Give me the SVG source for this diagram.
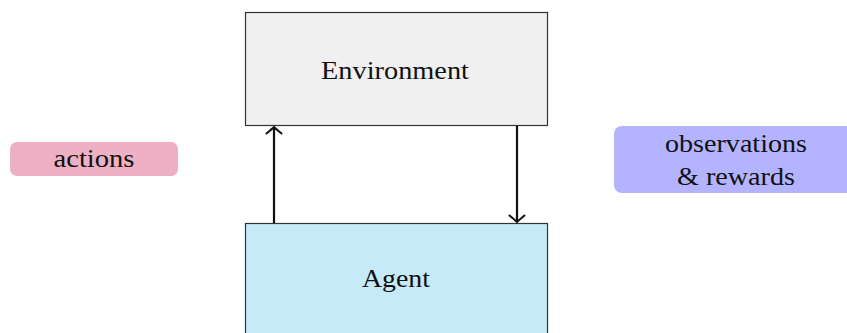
<svg xmlns="http://www.w3.org/2000/svg" width="847" height="333" viewBox="0 0 847 333">
<style>
text{font-family:"Liberation Serif","Times New Roman",serif;font-size:26px;fill:#111;text-anchor:middle}
.box{stroke:#333;stroke-width:1.2}
.conn{stroke:#111;stroke-width:2.2;fill:none}
</style>
<defs>
<marker id="tip" viewBox="-10 -10 12 20" markerWidth="12" markerHeight="20" refX="0" refY="0" orient="auto" markerUnits="userSpaceOnUse">
<path d="M-6.5,-7.5 Q-1.5,-1.5 0,0 Q-1.5,1.5 -6.5,7.5" fill="none" stroke="#111" stroke-width="2" stroke-linecap="round"/>
</marker>
</defs>
<rect width="847" height="333" fill="#fff"/>
<g id="environment">
<rect class="box" x="245.5" y="12.5" width="302" height="113" fill="#f0f0f0"/>
<text x="395" y="79" textLength="148" lengthAdjust="spacingAndGlyphs">Environment</text>
</g>
<g id="agent">
<rect class="box" x="245.5" y="223.5" width="302" height="130" fill="#c7eaf9"/>
<text x="396" y="287" textLength="68" lengthAdjust="spacingAndGlyphs">Agent</text>
</g>
<g id="actions">
<rect x="10" y="142" width="168" height="34" rx="7" fill="#edb0c4"/>
<text x="94" y="167" textLength="81" lengthAdjust="spacingAndGlyphs">actions</text>
</g>
<g id="observations">
<rect x="614" y="126" width="250" height="67" rx="8" fill="#b3b3ff"/>
<text x="736" y="152" textLength="142" lengthAdjust="spacingAndGlyphs">observations</text>
<text x="736" y="185" textLength="118" lengthAdjust="spacingAndGlyphs">&amp; rewards</text>
</g>
<g id="connectors">
<line class="conn" x1="274" y1="223" x2="274" y2="127" marker-end="url(#tip)"/>
<line class="conn" x1="517" y1="126" x2="517" y2="222" marker-end="url(#tip)"/>
</g>
</svg>
